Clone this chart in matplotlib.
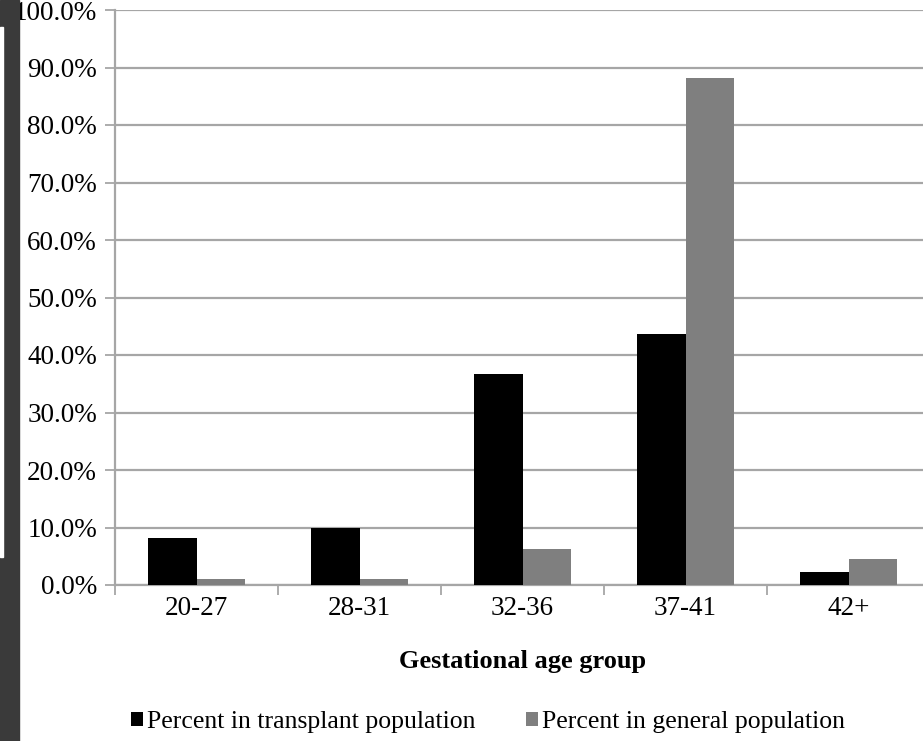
import numpy as np
import matplotlib.pyplot as plt
from matplotlib.patches import Rectangle

# data
groups = ['20-27', '28-31', '32-36', '37-41', '42+']
transplant = [8.2, 9.9, 36.7, 43.7, 2.3]
general = [1.0, 1.0, 6.3, 88.2, 4.5]
series_names = ['Percent in transplant population', 'Percent in general population']

plt.rcParams['font.family'] = ['Liberation Serif', 'DejaVu Serif']

fig = plt.figure(figsize=(9.23, 7.41), dpi=100)
ax = fig.add_axes([115 / 923, 156 / 741, 815 / 923, 575 / 741])

x = np.arange(len(groups))
w = 0.295
b1 = ax.bar(x - w / 2, transplant, w, color='black', zorder=3, label=series_names[0])
b2 = ax.bar(x + w / 2, general, w, color='#7f7f7f', zorder=3, label=series_names[1])

ax.set_xlim(-0.5, len(groups) - 0.5)
ax.set_ylim(0, 100)
ax.set_yticks(np.arange(0, 101, 10))
ax.set_yticklabels([f'{v:.1f}%' for v in np.arange(0, 101, 10)], fontsize=19.5)
ax.yaxis.grid(True, color='#a6a6a6', linewidth=1.6, zorder=0)

ax.set_xticks(x)
ax.set_xticklabels(groups, fontsize=19.5)
ax.tick_params(axis='x', length=0, pad=8)
ax.set_xticks(np.arange(-0.5, len(groups)), minor=True)
ax.tick_params(axis='x', which='minor', length=7, width=1.3, color='#a6a6a6')
ax.tick_params(axis='y', length=7, width=1.3, color='#a6a6a6', pad=6)

for s in ['top', 'right']:
    ax.spines[s].set_visible(False)
for s in ['left', 'bottom']:
    ax.spines[s].set_color('#a6a6a6')
    ax.spines[s].set_linewidth(1.6)

ax.set_xlabel('Gestational age group', fontsize=19, fontweight='bold', labelpad=21)

fig.legend(handles=[b1, b2], loc='center', bbox_to_anchor=(488 / 923, 19 / 741), ncol=2,
           frameon=False, fontsize=18.5, handlelength=0.45, handleheight=0.45,
           handletextpad=0.15, columnspacing=2.0, borderpad=0, borderaxespad=0)

# dark border strip on the left edge of the scan
fig.patches.append(Rectangle((0, 0), 19 / 923, 1, transform=fig.transFigure,
                             color='#3a3a3a', zorder=10))
fig.patches.append(Rectangle((0, 184 / 741), 3 / 923, 530 / 741, transform=fig.transFigure,
                             color='white', zorder=11))

fig.savefig('out.png', dpi=100)
